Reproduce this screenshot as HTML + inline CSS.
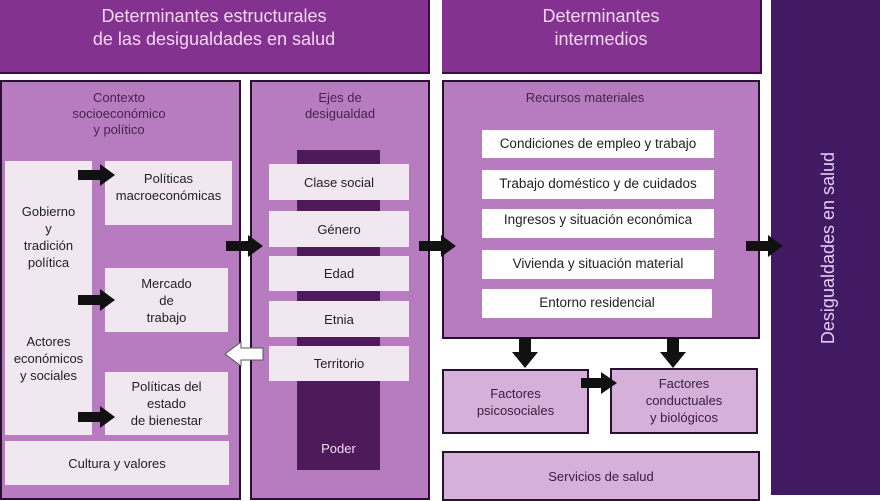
<!DOCTYPE html>
<html><head><meta charset="utf-8"><style>
*{margin:0;padding:0;box-sizing:border-box}
body{width:880px;height:495px;overflow:hidden;background:#fff;position:relative;font-family:"Liberation Sans",sans-serif}
.a{position:absolute}
.hd{background:#83338f;border:1px solid #3a1040;border-width:0 2px 2px 0;color:#f3d6f3;font-size:18px;text-align:center;line-height:23px;padding-top:5px}
.pn{background:#b77cbf;border:2px solid #2a1030}
.bx{background:#f1e7f1;color:#222;font-size:13px;text-align:center;display:flex;align-items:center;justify-content:center;line-height:17px}
.t{color:#4a2052;font-size:13px;text-align:center;line-height:16px}
.wb{background:#fff;color:#222;font-size:13.5px;text-align:center;line-height:28px}
.lt{background:#d5b0d8;border:2px solid #2a1030;color:#3a2040;font-size:13px;text-align:center;display:flex;align-items:center;justify-content:center;line-height:17px}
</style></head><body>
<div class="a hd" style="left:0;top:0;width:430px;height:74px">Determinantes estructurales<br>de las desigualdades en salud</div>
<div class="a hd" style="left:442px;top:0;width:320px;height:74px">Determinantes<br>intermedios</div>
<div class="a" style="left:771px;top:0;width:109px;height:495px;background:#411a63"></div>
<div class="a" style="left:828px;top:248px;width:0;height:0"><div style="position:absolute;width:240px;left:-120px;top:-11px;transform:rotate(-90deg);color:#e4cdf0;font-size:18px;text-align:center;line-height:22px">Desigualdades en salud</div></div>

<div class="a pn" style="left:0;top:80px;width:241px;height:420px"></div>
<div class="a t" style="left:0;top:90px;width:238px">Contexto<br>socioeconómico<br>y político</div>
<div class="a bx" style="left:5px;top:161px;width:87px;height:274px;flex-direction:column;justify-content:flex-start;padding-top:42px">Gobierno<br>y<br>tradición<br>política<div style="height:62px"></div>Actores<br>económicos<br>y sociales</div>
<div class="a bx" style="left:105px;top:161px;width:127px;height:64px;align-items:flex-start;padding-top:9px">Políticas<br>macroeconómicas</div>
<div class="a bx" style="left:105px;top:268px;width:123px;height:64px">Mercado<br>de<br>trabajo</div>
<div class="a bx" style="left:105px;top:372px;width:123px;height:63px">Políticas del<br>estado<br>de bienestar</div>
<div class="a bx" style="left:5px;top:441px;width:224px;height:44px">Cultura y valores</div>

<div class="a pn" style="left:250px;top:80px;width:180px;height:420px"></div>
<div class="a t" style="left:250px;top:90px;width:180px">Ejes de<br>desigualdad</div>
<div class="a" style="left:297px;top:150px;width:83px;height:320px;background:#4e1a5a"></div>
<div class="a bx" style="left:269px;top:164px;width:140px;height:36px">Clase social</div>
<div class="a bx" style="left:269px;top:211px;width:140px;height:36px">Género</div>
<div class="a bx" style="left:269px;top:256px;width:140px;height:35px">Edad</div>
<div class="a bx" style="left:269px;top:301px;width:140px;height:36px">Etnia</div>
<div class="a bx" style="left:269px;top:346px;width:140px;height:35px">Territorio</div>
<div class="a" style="left:297px;top:441px;width:83px;text-align:center;color:#eedcf0;font-size:13px">Poder</div>

<div class="a pn" style="left:442px;top:80px;width:318px;height:259px"></div>
<div class="a t" style="left:442px;top:90px;width:286px">Recursos materiales</div>
<div class="a wb" style="left:482px;top:130px;width:232px;height:28px">Condiciones de empleo y trabajo</div>
<div class="a wb" style="left:482px;top:170px;width:232px;height:29px">Trabajo doméstico y de cuidados</div>
<div class="a wb" style="left:482px;top:209px;width:232px;height:29px;line-height:22px">Ingresos y situación económica</div>
<div class="a wb" style="left:482px;top:250px;width:232px;height:29px">Vivienda y situación material</div>
<div class="a wb" style="left:482px;top:289px;width:230px;height:29px">Entorno residencial</div>

<div class="a lt" style="left:442px;top:369px;width:147px;height:65px">Factores<br>psicosociales</div>
<div class="a lt" style="left:610px;top:368px;width:148px;height:66px;align-items:flex-start;padding-top:5px">Factores<br>conductuales<br>y biológicos</div>
<div class="a lt" style="left:442px;top:451px;width:318px;height:50px;align-items:flex-start;padding-top:15px">Servicios de salud</div>

<svg class="a" style="left:0;top:0" width="880" height="495">
<g fill="#111">
<polygon points="78,170 100,170 100,164 115,175 100,186 100,180 78,180"/>
<polygon points="78,295 100,295 100,289 115,300 100,311 100,305 78,305"/>
<polygon points="78,412 100,412 100,406 115,417 100,428 100,422 78,422"/>
<polygon points="226,241 248,241 248,235 263,246 248,257 248,251 226,251"/>
<polygon points="419,241 441,241 441,235 456,246 441,257 441,251 419,251"/>
<polygon points="746,241 768,241 768,235 783,246 768,257 768,251 746,251"/>
<polygon points="581,378 601,378 601,372 617,383 601,394 601,388 581,388"/>
<polygon points="519,338 531,338 531,352 538,352 525,368 512,352 519,352"/>
<polygon points="667,338 679,338 679,352 686,352 673,368 660,352 667,352"/>
</g>
<polygon points="263,348 241,348 241,342 225,354 241,366 241,360 263,360" fill="#fff" stroke="#555" stroke-width="1"/>
</svg>
</body></html>
